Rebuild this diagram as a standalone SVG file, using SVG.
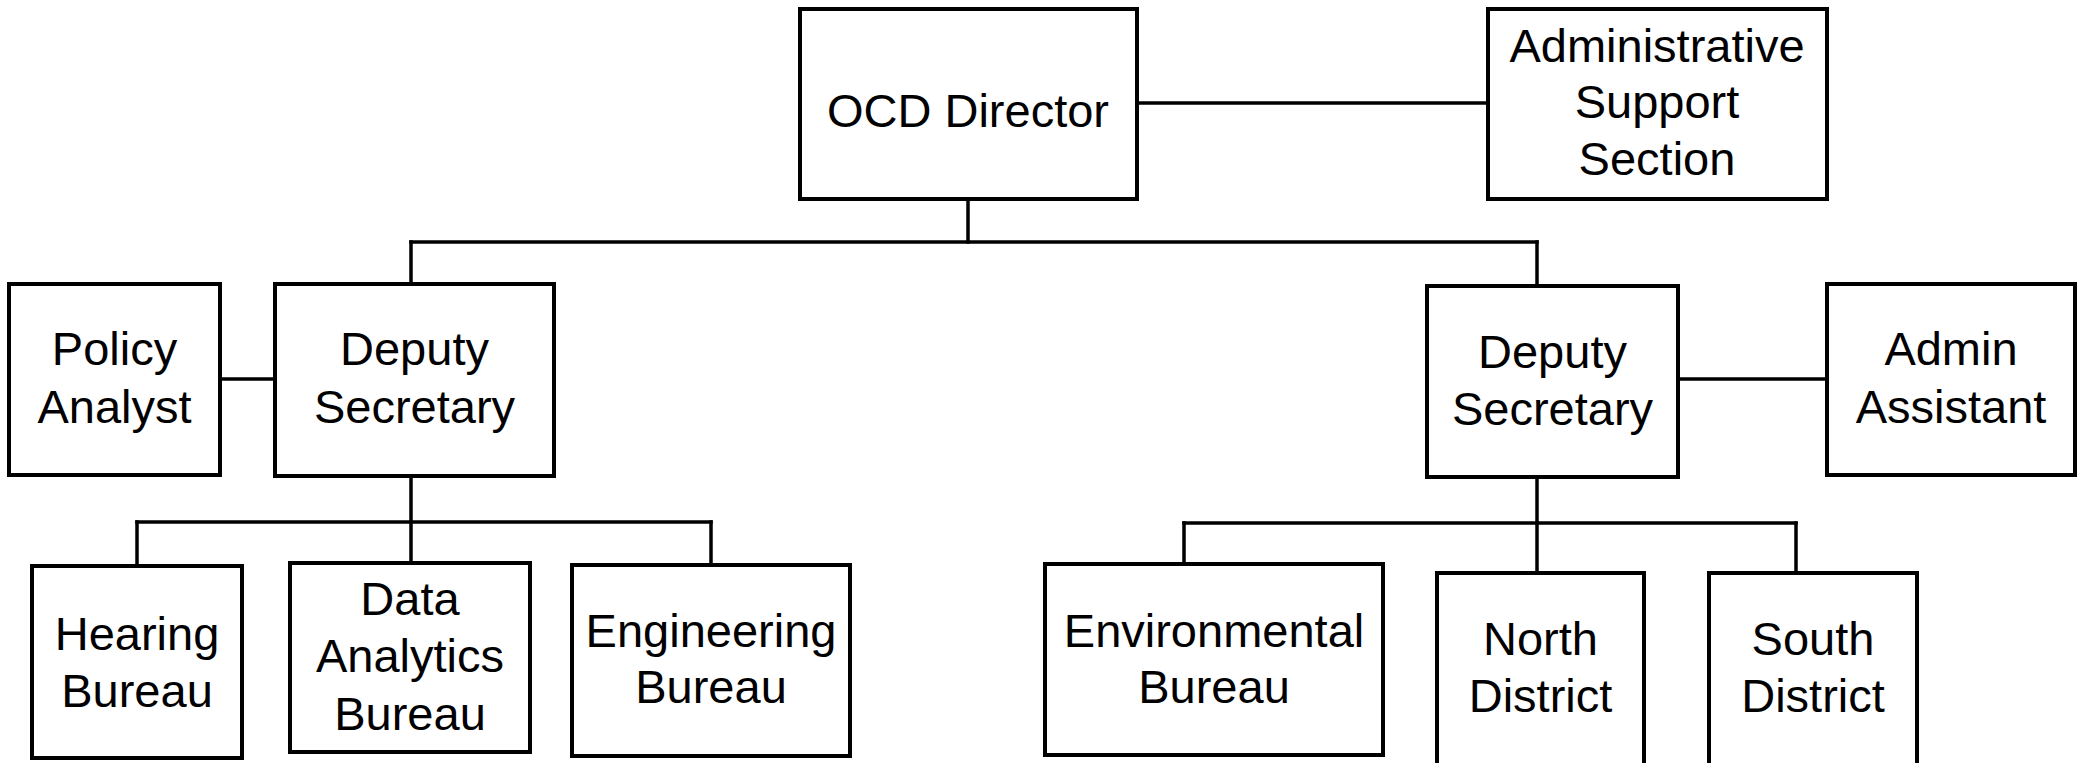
<svg xmlns="http://www.w3.org/2000/svg" width="2078" height="763" viewBox="0 0 2078 763">
<style>
.box{fill:#fff;stroke:#000;stroke-width:4}
.lbl{font-family:"Liberation Sans",Arial,sans-serif;font-size:47px;fill:#000;text-anchor:middle}
.conn line{stroke:#000;stroke-width:3.5;stroke-linecap:square}
</style>
<rect width="2078" height="763" fill="#fff"/>
<g id="connectors" class="conn">
<line x1="1137" y1="103" x2="1488" y2="103"/>
<line x1="968" y1="199" x2="968" y2="242"/>
<line x1="411" y1="242" x2="1537" y2="242"/>
<line x1="411" y1="242" x2="411" y2="284"/>
<line x1="1537" y1="242" x2="1537" y2="286"/>
<line x1="220" y1="379" x2="275" y2="379"/>
<line x1="1678" y1="379" x2="1827" y2="379"/>
<line x1="411" y1="476" x2="411" y2="563"/>
<line x1="137" y1="522" x2="711" y2="522"/>
<line x1="137" y1="522" x2="137" y2="566"/>
<line x1="711" y1="522" x2="711" y2="565"/>
<line x1="1537" y1="477" x2="1537" y2="573"/>
<line x1="1184" y1="523" x2="1796" y2="523"/>
<line x1="1184" y1="523" x2="1184" y2="564"/>
<line x1="1796" y1="523" x2="1796" y2="573"/>
</g>
<g id="ocd-director">
<rect class="box" x="800" y="9" width="337" height="190"/>
<text class="lbl" x="968" y="127">OCD Director</text>
</g>
<g id="admin-support">
<rect class="box" x="1488" y="9" width="339" height="190"/>
<text class="lbl" x="1657" y="62">Administrative</text>
<text class="lbl" x="1657" y="118">Support</text>
<text class="lbl" x="1657" y="175">Section</text>
</g>
<g id="policy-analyst">
<rect class="box" x="9" y="284" width="211" height="191"/>
<text class="lbl" x="114.5" y="365">Policy</text>
<text class="lbl" x="114.5" y="423">Analyst</text>
</g>
<g id="deputy-left">
<rect class="box" x="275" y="284" width="279" height="192"/>
<text class="lbl" x="414.5" y="365">Deputy</text>
<text class="lbl" x="414.5" y="423">Secretary</text>
</g>
<g id="deputy-right">
<rect class="box" x="1427" y="286" width="251" height="191"/>
<text class="lbl" x="1552.5" y="368">Deputy</text>
<text class="lbl" x="1552.5" y="425">Secretary</text>
</g>
<g id="admin-assistant">
<rect class="box" x="1827" y="284" width="248" height="191"/>
<text class="lbl" x="1951" y="365">Admin</text>
<text class="lbl" x="1951" y="423">Assistant</text>
</g>
<g id="hearing-bureau">
<rect class="box" x="32" y="566" width="210" height="192"/>
<text class="lbl" x="137" y="650">Hearing</text>
<text class="lbl" x="137" y="707">Bureau</text>
</g>
<g id="data-analytics-bureau">
<rect class="box" x="290" y="563" width="240" height="189"/>
<text class="lbl" x="410" y="615">Data</text>
<text class="lbl" x="410" y="672">Analytics</text>
<text class="lbl" x="410" y="730">Bureau</text>
</g>
<g id="engineering-bureau">
<rect class="box" x="572" y="565" width="278" height="191"/>
<text class="lbl" x="711" y="647">Engineering</text>
<text class="lbl" x="711" y="703">Bureau</text>
</g>
<g id="environmental-bureau">
<rect class="box" x="1045" y="564" width="338" height="191"/>
<text class="lbl" x="1214" y="647">Environmental</text>
<text class="lbl" x="1214" y="703">Bureau</text>
</g>
<g id="north-district">
<rect class="box" x="1437" y="573" width="207" height="200"/>
<text class="lbl" x="1540.5" y="655">North</text>
<text class="lbl" x="1540.5" y="712">District</text>
</g>
<g id="south-district">
<rect class="box" x="1709" y="573" width="208" height="200"/>
<text class="lbl" x="1813" y="655">South</text>
<text class="lbl" x="1813" y="712">District</text>
</g>
</svg>
